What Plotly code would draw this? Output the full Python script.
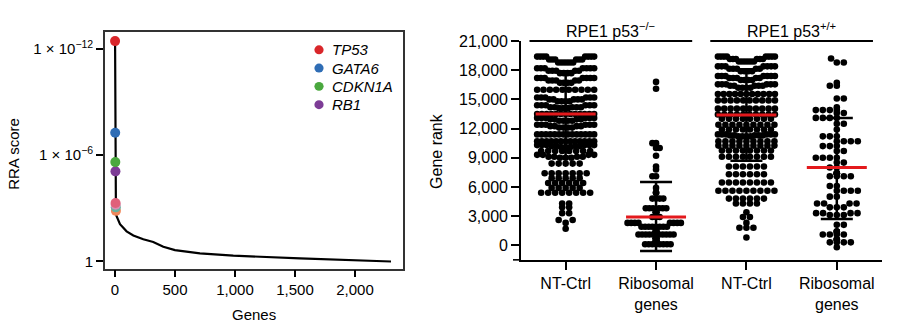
import plotly.graph_objects as go

# ---------------- data: left panel (RRA ranking) ----------------
gene_names = ["TP53", "GATA6", "CDKN1A", "RB1"]
top_rank = [1, 2, 3, 4, 5, 6, 7, 8]
top_score = [3.8e-13, 5.6e-8, 2.5e-6, 8.3e-6, 5.0e-4, 6.3e-4, 8.9e-4, 1.4e-3]
top_colors = ["#d9262a", "#2f6db5", "#4aa83e", "#7d3c96",
              "#e0607a", "#d98cb3", "#66b2a0", "#f0875a"]
tail_rank = [12, 42, 97, 153, 236, 319, 403, 500, 708, 986, 1542, 2097, 2300]
tail_score = [2.6e-3, 7.9e-3, 0.020, 0.034, 0.056, 0.079, 0.148, 0.23,
              0.35, 0.47, 0.66, 0.88, 1.0]
left_xticks = [0, 500, 1000, 1500, 2000]
left_xticktext = ["0", "500", "1,000", "1,500", "2,000"]
left_yticks = [1e-12, 1e-6, 1]
left_yticktext = ["1 × 10<sup>−12</sup>", "1 × 10<sup>−6</sup>", "1"]

# ---------------- data: right panel (gene rank dot plots) ----------------
categories = ["NT-Ctrl", "Ribosomal<br>genes", "NT-Ctrl", "Ribosomal<br>genes"]
group_labels = ["RPE1 p53<sup>−/−</sup>", "RPE1 p53<sup>+/+</sup>"]

nt1_levels = [19400, 19100, 18800, 18200, 17950, 17700, 17200, 16950, 16700, 16000,
              15200, 15000, 14800, 14400, 14200, 14100, 13500, 13100, 12950, 12800,
              12400, 12250, 12100, 11400, 10700, 10300, 10200, 10100, 9700, 9300,
              9100, 9000, 8400, 7400, 6900, 6400, 5900, 5400, 4300, 3900,
              3300, 2600, 2300, 1700]
nt1_counts = [8, 6, 6, 7, 5, 4, 7, 5, 4, 10,
              6, 5, 4, 6, 5, 3, 13, 6, 4, 4,
              6, 4, 4, 14, 13, 6, 4, 3, 8, 4,
              4, 3, 5, 7, 5, 6, 5, 8, 2, 2,
              2, 2, 1, 1]

rib1_levels = [16800, 16100, 10500, 10000, 9200, 8100, 7800, 7100, 5900, 5400,
               4800, 3800, 3400, 2900, 2300, 1900, 1400, 1100, 700, 400, 100]
rib1_counts = [1, 1, 2, 2, 1, 1, 1, 2, 1, 3,
               4, 6, 6, 3, 8, 8, 10, 10, 10, 10, 8]

nt2_levels = [19400, 19150, 18900, 18400, 18150, 17900, 17400, 17200, 17000, 16550,
              16400, 16200, 15550, 14900, 14050, 13450, 13000, 12400, 11900, 11400,
              11300, 11200, 10700, 10250, 9750, 9100, 8100, 7300, 6450, 5600,
              4800, 4300, 3400, 2900, 2300, 1800, 800]
nt2_counts = [8, 6, 6, 7, 5, 4, 7, 5, 4, 6,
              5, 4, 11, 10, 10, 10, 8, 9, 8, 6,
              5, 4, 9, 9, 8, 8, 6, 6, 8, 9,
              6, 4, 1, 2, 1, 3, 1]

rib2_levels = [19200, 18800, 16700, 16400, 15100, 14200, 13900, 13600, 13100, 12500,
               11900, 11200, 10700, 10200, 9700, 9000, 8500, 8000, 7400, 7100,
               6100, 5600, 5000, 4300, 3900, 3300, 3100, 2100, 1400, 1100,
               600, 300, -200]
rib2_counts = [1, 2, 1, 2, 2, 1, 4, 2, 4, 2,
               1, 3, 4, 3, 2, 4, 2, 2, 5, 4,
               2, 4, 2, 4, 3, 4, 3, 2, 3, 4,
               3, 4, 1]

group_levels = [nt1_levels, rib1_levels, nt2_levels, rib2_levels]
group_counts = [nt1_counts, rib1_counts, nt2_counts, rib2_counts]
group_layout = ["rows", "swarm", "rows", "swarm"]

center_line = [13500, 2900, 13400, 8000]      # red line
bar_low = [9100, -600, 8700, 2700]            # error bar lower end
bar_high = [17900, 6500, 18100, 13100]        # error bar upper end

# ---------------- layout geometry ----------------
W, H = 900, 326
FONT = "Liberation Sans, Arial, Helvetica, sans-serif"


def px_x(p):
    return p / W


def px_y(p):
    return 1 - p / H


L_DOM_X = [px_x(105), px_x(403)]
L_DOM_Y = [px_y(268), px_y(25)]
R_DOM_X = [px_x(521), px_x(882)]
R_DOM_Y = [px_y(259), px_y(34)]
R_XRANGE = [-0.494, 3.5]
R_YRANGE = [-1500, 21000]
PX_PER_UNIT = (882 - 521) / (R_XRANGE[1] - R_XRANGE[0])
PX_PER_RANK = (259 - 34) / (R_YRANGE[1] - R_YRANGE[0])

DOT_PX = 6.6
SPACING_PX = 7
MAXHALF_PX = 28.5
ROW_GAP = 350   # levels closer than this share a row (Prism-like binning)


def row_layout(levels, counts):
    """Prism-style rows: lowest value in the middle, higher values outward."""
    pairs = sorted(zip(levels, counts), key=lambda t: -t[0])
    rows, cur = [], []
    for v, n in pairs:
        if cur and cur[-1] - v > ROW_GAP:
            rows.append(cur)
            cur = []
        cur += [v] * n
    if cur:
        rows.append(cur)
    xs, ys = [], []
    for row in rows:
        vals = sorted(row)
        n = len(vals)
        s = SPACING_PX if n <= 1 else min(SPACING_PX, 2 * MAXHALF_PX / (n - 1))
        slots = sorted([(k - (n - 1) / 2) * s for k in range(n)], key=lambda o: (abs(o), o))
        for v, o in zip(vals, slots):
            xs.append(o)
            ys.append(v)
    return xs, ys


def swarm_layout(levels, counts):
    vals = []
    for v, n in zip(levels, counts):
        vals += [v] * n
    vals.sort()
    placed = []
    d = SPACING_PX
    side = 1
    for v in vals:
        y = v * PX_PER_RANK
        cands = [0.0]
        for px, py in placed:
            dy = abs(py - y)
            if dy < d:
                dx = (d * d - dy * dy) ** 0.5
                cands += [px - dx, px + dx]
        cands = sorted(set(round(c, 6) for c in cands), key=lambda c: (abs(c), -side * c))
        best = 0.0
        for c in cands:
            if all((c - px) ** 2 + (y - py) ** 2 >= d * d - 1e-6 for px, py in placed):
                best = c
                break
        if best != 0:
            side = -side
        placed.append((best, y))
    xs = [p[0] for p in placed]
    m = max(abs(x) for x in xs) if xs else 0
    if m > MAXHALF_PX:
        xs = [x * MAXHALF_PX / m for x in xs]
    return xs, vals


fig = go.Figure()

# ---------------- left panel ----------------
fig.add_trace(go.Scatter(
    x=top_rank + tail_rank, y=top_score + tail_score, mode="lines",
    line=dict(color="black", width=2.2), xaxis="x", yaxis="y",
    hoverinfo="skip", showlegend=False))
fig.add_trace(go.Scatter(
    x=top_rank[::-1], y=top_score[::-1], mode="markers",
    marker=dict(color=top_colors[::-1], size=10, line=dict(width=0)),
    xaxis="x", yaxis="y", showlegend=False))

# ---------------- right panel: dots ----------------
for gi, (levels, counts) in enumerate(zip(group_levels, group_counts)):
    if group_layout[gi] == "rows":
        offs, ys = row_layout(levels, counts)
    else:
        offs, ys = swarm_layout(levels, counts)
    xs = [gi + o / PX_PER_UNIT for o in offs]
    fig.add_trace(go.Scatter(
        x=xs, y=ys, mode="markers",
        marker=dict(color="black", size=DOT_PX, line=dict(width=0)),
        xaxis="x2", yaxis="y2", showlegend=False, hoverinfo="y"))

# error bars
CAP_HALF = 16 / PX_PER_UNIT
MEAN_HALF = 30 / PX_PER_UNIT
ex, ey = [], []
for gi in range(4):
    ex += [gi, gi, None, gi - CAP_HALF, gi + CAP_HALF, None, gi - CAP_HALF, gi + CAP_HALF, None]
    ey += [bar_low[gi], bar_high[gi], None, bar_low[gi], bar_low[gi], None,
           bar_high[gi], bar_high[gi], None]
fig.add_trace(go.Scatter(x=ex, y=ey, mode="lines", line=dict(color="black", width=2.5),
                         xaxis="x2", yaxis="y2", showlegend=False, hoverinfo="skip"))
mx, my = [], []
for gi in range(4):
    mx += [gi - MEAN_HALF, gi + MEAN_HALF, None]
    my += [center_line[gi], center_line[gi], None]
fig.add_trace(go.Scatter(x=mx, y=my, mode="lines", line=dict(color="#e3191c", width=3),
                         xaxis="x2", yaxis="y2", showlegend=False, hoverinfo="skip"))

# ---------------- shapes & annotations ----------------
shapes = []
annotations = []

# legend (manual)
for i, name in enumerate(gene_names):
    cy = 43 + i * 18.8
    cx = 319
    r = 4.6
    shapes.append(dict(type="circle", xref="paper", yref="paper",
                       x0=px_x(cx - r), x1=px_x(cx + r), y0=px_y(cy + r), y1=px_y(cy - r),
                       fillcolor=top_colors[i], line=dict(width=0)))
    annotations.append(dict(text="<i>%s</i>" % name, xref="paper", yref="paper",
                            x=px_x(330), y=px_y(cy), xanchor="left", yanchor="middle",
                            showarrow=False, font=dict(size=15, color="black", family=FONT)))

# group header lines and labels
for g, lab in enumerate(group_labels):
    c = 2 * g + 0.5
    shapes.append(dict(type="line", xref="x2", yref="paper",
                       x0=c - 0.9, x1=c + 0.9, y0=R_DOM_Y[1], y1=R_DOM_Y[1],
                       line=dict(color="black", width=2)))
    annotations.append(dict(text=lab, xref="x2", yref="paper", x=c, y=px_y(23),
                            xanchor="center", yanchor="middle", showarrow=False,
                            font=dict(size=16, color="black", family=FONT)))

# x axis line extension to the left of the y axis (as in the original)
shapes.append(dict(type="line", xref="paper", yref="paper",
                   x0=px_x(513), x1=R_DOM_X[0], y0=R_DOM_Y[0], y1=R_DOM_Y[0],
                   line=dict(color="black", width=1.6)))

# axis titles
annotations.append(dict(text="RRA score", xref="paper", yref="paper", x=px_x(14), y=px_y(150),
                        textangle=-90, showarrow=False, xanchor="center", yanchor="middle",
                        font=dict(size=15, color="black", family=FONT)))
annotations.append(dict(text="Genes", xref="paper", yref="paper", x=px_x(254), y=px_y(315),
                        showarrow=False, xanchor="center", yanchor="middle",
                        font=dict(size=15, color="black", family=FONT)))
annotations.append(dict(text="Gene rank", xref="paper", yref="paper", x=px_x(437), y=px_y(147),
                        textangle=-90, showarrow=False, xanchor="center", yanchor="middle",
                        font=dict(size=16, color="black", family=FONT)))

axis_common = dict(showgrid=False, zeroline=False, showline=True,
                   ticks="outside", tickcolor="black", tickwidth=1.5)

fig.update_layout(
    width=W, height=H, margin=dict(l=0, r=0, t=0, b=0),
    paper_bgcolor="white", plot_bgcolor="white",
    font=dict(family=FONT, color="black", size=15),
    showlegend=False,
    xaxis=dict(domain=L_DOM_X, range=[-83, 2400], tickvals=left_xticks,
               ticktext=left_xticktext, anchor="y", mirror=True, linewidth=1.6,
               linecolor="#333333", ticklen=7, tickfont=dict(size=15), **axis_common),
    yaxis=dict(domain=L_DOM_Y, type="log", range=[0.40, -12.915], tickvals=left_yticks,
               ticktext=left_yticktext, anchor="x", mirror=True, linewidth=1.6,
               linecolor="#333333", ticklen=7, tickfont=dict(size=15), **axis_common),
    xaxis2=dict(domain=R_DOM_X, range=R_XRANGE, tickvals=[0, 1, 2, 3], ticktext=categories,
                anchor="y2", linewidth=1.6, linecolor="black", ticklen=8,
                tickfont=dict(size=16), **axis_common),
    yaxis2=dict(domain=R_DOM_Y, range=R_YRANGE,
                tickvals=[0, 3000, 6000, 9000, 12000, 15000, 18000, 21000],
                tickformat=",d", anchor="x2", linewidth=1.6, linecolor="black", ticklen=8,
                tickfont=dict(size=16), **axis_common),
    shapes=shapes, annotations=annotations,
)

fig.write_html("out.html")
